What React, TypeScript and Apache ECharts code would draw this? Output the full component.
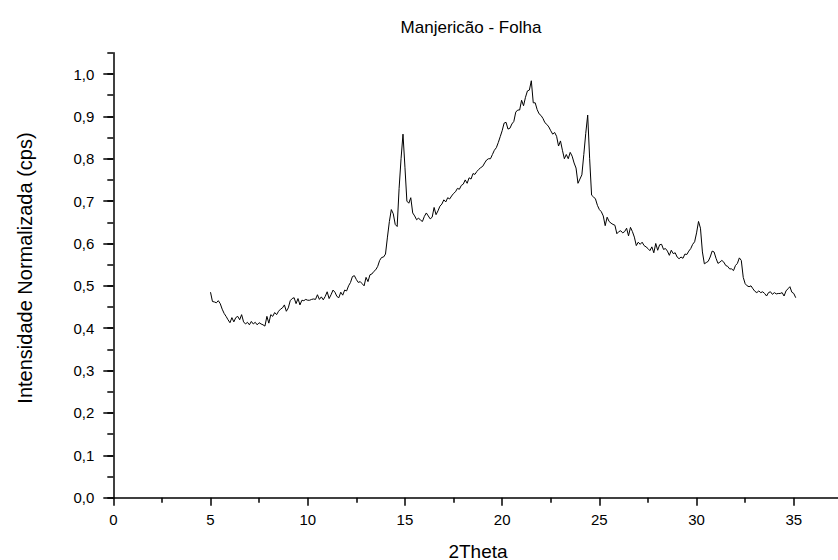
import React, { useEffect, useRef } from "react";
import * as echarts from "echarts";

const TITLE = "Manjericão - Folha";
const X_NAME = "2Theta";
const Y_NAME = "Intensidade Normalizada (cps)";

// 2Theta sampling grid of the measurement
const X_START = 5.0;
const X_STEP = 0.1;

// Normalized intensity, 0.1 steps in 2Theta
const INT_05_10 = [
  0.485, 0.463, 0.462, 0.46, 0.465, 0.458, 0.445, 0.435, 0.428, 0.42,
  0.413, 0.425, 0.415, 0.425, 0.428, 0.42, 0.432, 0.415, 0.41, 0.414,
  0.408, 0.416, 0.41, 0.414, 0.408, 0.413, 0.41, 0.408, 0.405, 0.428,
  0.412, 0.432, 0.428, 0.437, 0.432, 0.44, 0.445, 0.448, 0.455, 0.44,
  0.448, 0.465, 0.47, 0.472, 0.458, 0.47, 0.455, 0.466, 0.465, 0.468,
];
const INT_10_15 = [
  0.466, 0.466, 0.468, 0.469, 0.468, 0.479, 0.468, 0.474, 0.467, 0.475,
  0.486, 0.47, 0.479, 0.49, 0.485, 0.475, 0.472, 0.485, 0.478, 0.49,
  0.488, 0.5, 0.508, 0.522, 0.524, 0.515, 0.508, 0.51, 0.505, 0.5,
  0.52, 0.51, 0.526, 0.528, 0.534, 0.538, 0.546, 0.56, 0.567, 0.568,
  0.575, 0.615, 0.652, 0.68, 0.67, 0.645, 0.64, 0.73, 0.8, 0.858,
];
const INT_15_20 = [
  0.78, 0.7, 0.695, 0.708, 0.672, 0.665, 0.656, 0.66, 0.655, 0.652,
  0.664, 0.672, 0.665, 0.658, 0.662, 0.685, 0.668, 0.677, 0.688, 0.693,
  0.703, 0.698, 0.708, 0.705, 0.712, 0.718, 0.722, 0.73, 0.728, 0.737,
  0.74, 0.75, 0.742, 0.755, 0.752, 0.765, 0.763, 0.77, 0.775, 0.779,
  0.782, 0.79, 0.797, 0.8, 0.8, 0.81, 0.82, 0.826, 0.838, 0.852,
];
const INT_20_25 = [
  0.866, 0.884, 0.886, 0.87, 0.872, 0.882, 0.888, 0.91, 0.915, 0.915,
  0.938, 0.925, 0.945, 0.96, 0.962, 0.984, 0.932, 0.932, 0.916, 0.906,
  0.902, 0.895, 0.885, 0.881, 0.875, 0.866, 0.858, 0.862, 0.853, 0.83,
  0.842, 0.82, 0.8, 0.81, 0.8, 0.815, 0.806, 0.79, 0.778, 0.742,
  0.752, 0.762, 0.81, 0.86, 0.903, 0.8, 0.714, 0.71, 0.705, 0.69,
];
const INT_25_30 = [
  0.68, 0.675, 0.665, 0.642, 0.662, 0.652, 0.648, 0.645, 0.643, 0.623,
  0.628, 0.63, 0.625, 0.628, 0.636, 0.618, 0.638, 0.628, 0.615, 0.595,
  0.603, 0.598, 0.603, 0.595, 0.592, 0.588, 0.583, 0.592, 0.578, 0.6,
  0.584, 0.597, 0.598, 0.586, 0.588, 0.582, 0.572, 0.584, 0.576, 0.578,
  0.568, 0.564, 0.568, 0.565, 0.575, 0.574, 0.582, 0.588, 0.598, 0.604,
];
const INT_30_35 = [
  0.625, 0.652, 0.636, 0.58, 0.552, 0.555, 0.558, 0.568, 0.582, 0.58,
  0.565, 0.553, 0.556, 0.56, 0.556, 0.548, 0.546, 0.54, 0.54, 0.536,
  0.548, 0.553, 0.566, 0.56, 0.52, 0.505, 0.5, 0.498, 0.5, 0.493,
  0.487, 0.484, 0.488, 0.484, 0.486, 0.482, 0.476, 0.484, 0.486, 0.48,
  0.484, 0.481, 0.482, 0.482, 0.484, 0.476, 0.488, 0.493, 0.498, 0.485,
  0.482, 0.472,
];

const FONT = "'Liberation Sans', Arial, Helvetica, sans-serif";

export default function App() {
  const ref = useRef<HTMLDivElement>(null);

  useEffect(() => {
    if (!ref.current) return;
    const chart = echarts.init(ref.current, null, { renderer: "svg" });

    const intensities = [
      ...INT_05_10,
      ...INT_10_15,
      ...INT_15_20,
      ...INT_20_25,
      ...INT_25_30,
      ...INT_30_35,
    ];
    const data = intensities.map((v, i) => [
      Math.round((X_START + i * X_STEP) * 100) / 100,
      v,
    ]);

    const axisLineStyle = { color: "#000", width: 1.5 };

    const option: any = {
      animation: false,
      backgroundColor: "#fff",
      grid: [
        { left: 113.3, right: 0, top: 52.8, bottom: 62.3, containLabel: false },
        { left: 113.3, right: 0, top: 74, bottom: 62.3, containLabel: false },
      ],
      xAxis: [
        {
          type: "value",
          gridIndex: 0,
          min: 0,
          max: 40,
          interval: 5,
          axisLine: { show: true, onZero: false, lineStyle: axisLineStyle },
          axisTick: { show: true, length: 8, lineStyle: axisLineStyle },
          minorTick: { show: true, splitNumber: 2, length: 5, lineStyle: axisLineStyle },
          splitLine: { show: false },
          minorSplitLine: { show: false },
          axisLabel: {
            margin: 14,
            fontFamily: FONT,
            fontSize: 15,
            color: "#000",
            formatter: (v: number) => (v > 35 ? "" : String(v)),
          },
        },
        { type: "value", gridIndex: 1, min: 0, max: 40, show: false },
      ],
      yAxis: [
        {
          type: "value",
          gridIndex: 0,
          min: 0,
          max: 1.05,
          interval: 0.05,
          axisLine: { show: true, onZero: false, lineStyle: axisLineStyle },
          axisTick: { show: true, length: 6, lineStyle: axisLineStyle },
          axisLabel: { show: false },
          splitLine: { show: false },
        },
        {
          type: "value",
          gridIndex: 1,
          min: 0,
          max: 1,
          interval: 0.1,
          axisLine: { show: false },
          axisTick: { show: true, length: 10, lineStyle: axisLineStyle },
          splitLine: { show: false },
          axisLabel: {
            margin: 19,
            fontFamily: FONT,
            fontSize: 15,
            color: "#000",
            formatter: (v: number) => v.toFixed(1).replace(".", ","),
          },
        },
      ],
      graphic: [
        {
          type: "text",
          x: 471,
          y: 27,
          style: {
            text: TITLE,
            textAlign: "center",
            textVerticalAlign: "middle",
            fontFamily: FONT,
            fontSize: 17,
            fill: "#000",
          },
        },
        {
          type: "text",
          x: 478,
          y: 551,
          style: {
            text: X_NAME,
            textAlign: "center",
            textVerticalAlign: "middle",
            fontFamily: FONT,
            fontSize: 19,
            fill: "#000",
          },
        },
        {
          type: "text",
          x: 25,
          y: 268,
          rotation: Math.PI / 2,
          style: {
            text: Y_NAME,
            textAlign: "center",
            textVerticalAlign: "middle",
            fontFamily: FONT,
            fontSize: 20,
            fill: "#000",
          },
        },
      ],
      series: [
        {
          type: "line",
          xAxisIndex: 0,
          yAxisIndex: 0,
          data,
          showSymbol: false,
          symbol: "none",
          lineStyle: { color: "#000", width: 1 },
        },
      ],
    };

    chart.setOption(option);
    return () => chart.dispose();
  }, []);

  return (
    <div
      style={{
        position: "fixed",
        left: 0,
        top: 0,
        width: 838,
        height: 560,
        overflow: "hidden",
        background: "#fff",
      }}
    >
      <div ref={ref} style={{ width: 894, height: 560 }} />
    </div>
  );
}
